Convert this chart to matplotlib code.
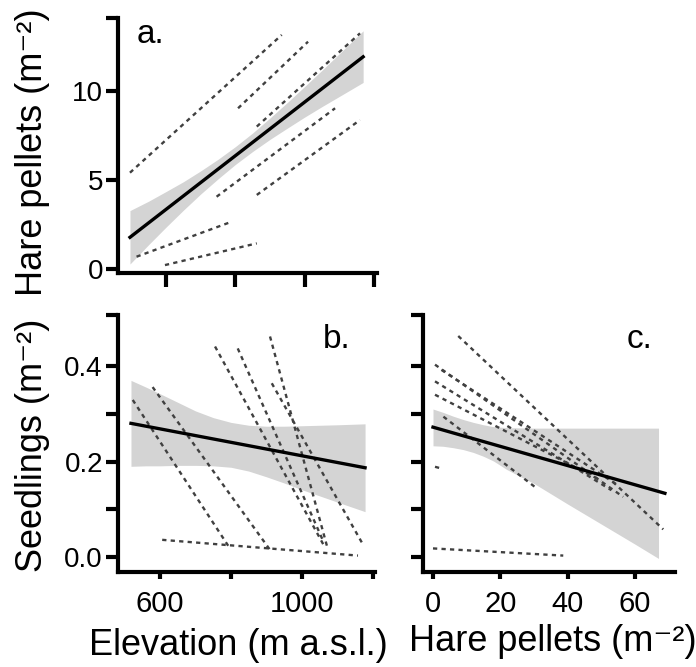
import numpy as np
import matplotlib
matplotlib.use('Agg')
import matplotlib.pyplot as plt

plt.rcParams['font.family'] = ['Liberation Sans', 'DejaVu Sans']

# ---- panel a: hare pellets vs elevation ----
a_fit_x = [496, 1169]
a_fit_y = [1.78, 11.92]
a_band_x = [496, 550, 600, 650, 700, 750, 800, 850, 900, 950, 1000, 1050, 1100, 1169]
a_band_lo = [0.28, 1.37, 2.35, 3.30, 4.21, 5.06, 5.87, 6.60, 7.28, 7.91, 8.53, 9.12, 9.69, 10.48]
a_band_hi = [3.28, 3.81, 4.35, 4.90, 5.51, 6.16, 6.87, 7.64, 8.48, 9.35, 10.25, 11.16, 12.09, 13.38]
a_sites_x = [[496, 934], [808, 1010], [862, 1160], [746, 1088],
             [862, 1160], [515, 790], [597, 862]]
a_sites_y = [[5.41, 13.15], [9.03, 12.77], [8.00, 13.24], [4.06, 9.03],
             [4.16, 8.37], [0.69, 2.66], [0.22, 1.44]]

# ---- panel b: seedlings vs elevation ----
b_fit_x = [518, 1178]
b_fit_y = [0.280, 0.187]
b_band_x = [518, 560, 600, 650, 700, 750, 800, 850, 900, 950, 1000, 1050, 1100, 1178]
b_band_lo = [0.190, 0.191, 0.191, 0.192, 0.192, 0.191, 0.188, 0.180, 0.168,
             0.155, 0.141, 0.128, 0.115, 0.095]
b_band_hi = [0.370, 0.356, 0.342, 0.324, 0.306, 0.292, 0.282, 0.276, 0.274,
             0.274, 0.275, 0.276, 0.277, 0.279]
b_sites_x = [[523, 797], [579, 910], [755, 1065], [819, 1059],
             [910, 1072], [915, 1173], [606, 1158]]
b_sites_y = [[0.329, 0.018], [0.356, 0.015], [0.441, 0.020], [0.437, 0.035],
             [0.462, 0.019], [0.364, 0.025], [0.036, 0.003]]

# ---- panel c: seedlings vs hare pellets ----
c_fit_x = [0, 68.9]
c_fit_y = [0.272, 0.1335]
c_band_x = [0, 3, 6, 9, 12, 15, 18, 22, 30, 40, 50, 60, 67]
c_band_lo = [0.233, 0.232, 0.229, 0.225, 0.219, 0.211, 0.201, 0.183, 0.154,
             0.111, 0.069, 0.027, -0.003]
c_band_hi = [0.310, 0.303, 0.295, 0.288, 0.282, 0.277, 0.273, 0.271, 0.270,
             0.270, 0.270, 0.270, 0.270]
c_sites_x = [[7.5, 68.4], [0.6, 56.5], [2.5, 55], [0.6, 53],
             [0.6, 50], [3.1, 30.8], [0.6, 2.2], [0.0, 38.7]]
c_sites_y = [[0.463, 0.058], [0.403, 0.126], [0.392, 0.150], [0.368, 0.140],
             [0.340, 0.160], [0.294, 0.144], [0.189, 0.186], [0.018, 0.003]]

W, H = 696, 667
fig = plt.figure(figsize=(W / 100, H / 100), dpi=100)


def px_axes(l, r, t, b):
  return fig.add_axes([l / W, 1 - b / H, (r - l) / W, (b - t) / H])


def draw_panel(ax, bx, blo, bhi, fx, fy, sx, sy):
  ax.fill_between(bx, blo, bhi, color='#d4d4d4', lw=0, zorder=1)
  for xs, ys in zip(sx, sy):
    ax.plot(xs, ys, color='#404040', lw=1.7, ls=(0, (1.8, 1.8)), zorder=2)
  ax.plot(fx, fy, color='black', lw=2.4, zorder=3)
  for s in ['top', 'right']:
    ax.spines[s].set_visible(False)
  for s in ['left', 'bottom']:
    ax.spines[s].set_linewidth(3)
  ax.tick_params(axis='y', length=9, width=3, pad=1.5, labelsize=20)
  ax.tick_params(axis='x', length=5, width=3, pad=8, labelsize=21)


ax_a = px_axes(117.5, 377, 18, 273)
draw_panel(ax_a, a_band_x, a_band_lo, a_band_hi, a_fit_x, a_fit_y,
           a_sites_x, a_sites_y)
ax_a.set_xlim(460, 1209)
ax_a.set_ylim(-0.225, 14.1)
ax_a.set_xticks([600, 800, 1000, 1200])
ax_a.set_xticklabels([])
ax_a.tick_params(axis='x', length=10)
ax_a.set_yticks([0, 5, 10, 14.1])
ax_a.set_yticklabels(['0', '5', '10', ''])
ax_a.text(0.073, 0.902, 'a.', transform=ax_a.transAxes, fontsize=24)

ax_b = px_axes(117.5, 375, 315, 572)
draw_panel(ax_b, b_band_x, b_band_lo, b_band_hi, b_fit_x, b_fit_y,
           b_sites_x, b_sites_y)
ax_b.set_xlim(480, 1206)
ax_b.set_ylim(-0.0314, 0.507)
ax_b.set_xticks([600, 800, 1000, 1200])
ax_b.set_xticklabels(['600', '', '1000', ''])
ax_b.set_yticks([0, 0.1, 0.2, 0.3, 0.4, 0.507])
ax_b.set_yticklabels(['0.0', '', '0.2', '', '0.4', ''])
ax_b.text(0.798, 0.872, 'b.', transform=ax_b.transAxes, fontsize=24)

ax_c = px_axes(423, 675, 315, 572)
draw_panel(ax_c, c_band_x, c_band_lo, c_band_hi, c_fit_x, c_fit_y,
           c_sites_x, c_sites_y)
ax_c.set_xlim(-2.97, 71.9)
ax_c.set_ylim(-0.0314, 0.507)
ax_c.set_xticks([0, 20, 40, 60])
ax_c.set_yticks([0, 0.1, 0.2, 0.3, 0.4, 0.507])
ax_c.set_yticklabels([])
ax_c.text(0.81, 0.872, 'c.', transform=ax_c.transAxes, fontsize=24)

# axis titles
fig.text(33 / W, 1 - 152 / H, 'Hare pellets (m\u207b\u00b2)', rotation=90,
         ha='center', va='center', fontsize=26)
fig.text(33 / W, 1 - 445 / H, 'Seedlings (m\u207b\u00b2)', rotation=90,
         ha='center', va='center', fontsize=26)
fig.text(238 / W, 1 - 655 / H, 'Elevation (m a.s.l.)', ha='center',
         va='baseline', fontsize=26)
fig.text(553 / W, 1 - 651 / H, 'Hare pellets (m\u207b\u00b2)', ha='center',
         va='baseline', fontsize=26)

fig.savefig('out.png', dpi=100)
